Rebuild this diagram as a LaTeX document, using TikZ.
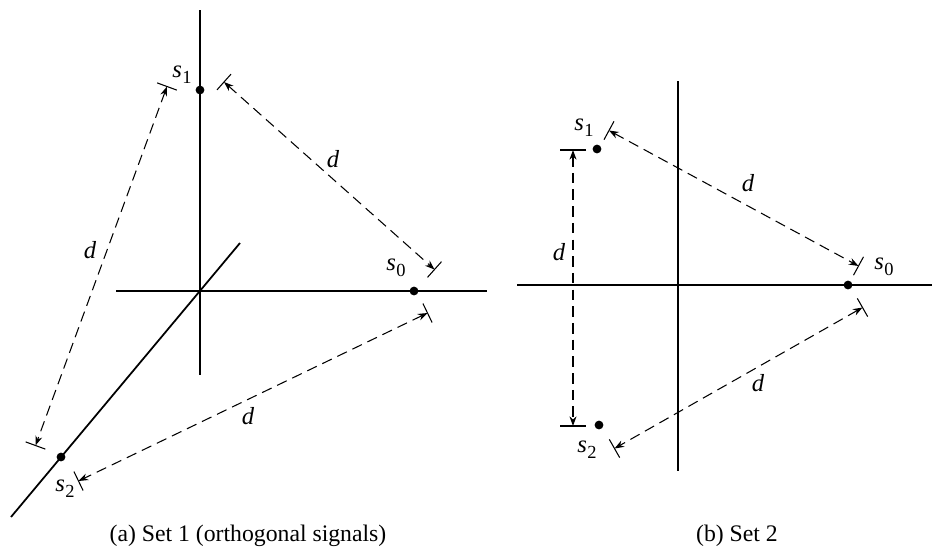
\documentclass[tikz,border=0pt]{standalone}
\usepackage{fontspec}
\setmainfont{Liberation Serif}
\usetikzlibrary{arrows.meta,calc}

\newcommand{\sig}[1]{\textit{s}\kern0.3pt\raisebox{-0.5ex}{\fontsize{10.5}{11}\selectfont #1}}

\begin{document}
\begin{tikzpicture}[x=0.02cm,y=-0.02cm,
  every node/.style={font=\fontsize{14}{15}\selectfont},
  axis/.style={line width=1pt},
  dot/.style={circle,fill=black,inner sep=0pt,minimum size=5pt},
  endbar/.style={line width=0.6pt},
  dimline/.style={line width=0.6pt,dash pattern=on 6pt off 3.5pt,
    {Stealth[length=5.5pt,width=4pt]}-{Stealth[length=5.5pt,width=4pt]}},
  lbl/.style={font=\fontsize{14}{15}\selectfont\itshape},
  figcap/.style={font=\fontsize{13.5}{15}\selectfont}]
  \useasboundingbox (0,0) rectangle (934,555);

  % (a) set 1
  \draw[axis] (116,291) -- (487,291);
  \draw[axis] (200,10) -- (200,375);
  \draw[axis] (240,243) -- (11,517);
  \node[dot] (a1) at (200,90) {};
  \node[dot] (a0) at (414,291) {};
  \node[dot] (a2) at (61,457) {};
  \node (la1) at (182,75) {\sig{1}};
  \node (la0) at (396,268) {\sig{0}};
  \node (la2) at (65,489) {\sig{2}};
  \coordinate (p10) at (224,82);
  \coordinate (p01) at (434.5,269.5);
  \coordinate (p12) at (167,86.5);
  \coordinate (p21) at (35.5,445.5);
  \coordinate (p02) at (427.5,313);
  \coordinate (p20) at (78.5,481);
  \draw[dimline] (p10) -- (p01);
  \draw[dimline] (p12) -- (p21);
  \draw[dimline] (p02) -- (p20);
  \foreach \p/\q in {p10/p01,p01/p10,p12/p21,p21/p12,p02/p20,p20/p02}
    \draw[endbar] ($(\p)!0.21cm!90:(\q)$) -- ($(\p)!0.21cm!-90:(\q)$);
  \node[lbl] (da1) at (333,159) {d};
  \node[lbl] (da2) at (90,250) {d};
  \node[lbl] (da3) at (248,416) {d};
  \node[figcap] (capa) at (248,536) {(a) Set 1 (orthogonal signals)};

  % (b) set 2
  \draw[axis] (517,285) -- (932,285);
  \draw[axis] (678,81) -- (678,471);
  \node[dot] (b1) at (597,149) {};
  \node[dot] (b0) at (848,285) {};
  \node[dot] (b2) at (599,425) {};
  \node (lb1) at (584,128) {\sig{1}};
  \node (lb0) at (884,267) {\sig{0}};
  \node (lb2) at (587,450) {\sig{2}};
  \coordinate (q10) at (609,130.5);
  \coordinate (q01) at (858.5,266);
  \coordinate (q02) at (862.5,307.5);
  \coordinate (q20) at (614.5,448.5);
  \coordinate (q12) at (573,150);
  \coordinate (q21) at (573,426);
  \draw[dimline] (q10) -- (q01);
  \draw[dimline] (q02) -- (q20);
  \draw[dimline] (q12) -- (q21);
  \foreach \p/\q in {q10/q01,q01/q10,q02/q20,q20/q02}
    \draw[endbar] ($(\p)!0.21cm!90:(\q)$) -- ($(\p)!0.21cm!-90:(\q)$);
  \foreach \p/\q in {q12/q21,q21/q12}
    \draw[endbar] ($(\p)!0.26cm!90:(\q)$) -- ($(\p)!0.26cm!-90:(\q)$);
  \node[lbl] (db1) at (748,183) {d};
  \node[lbl] (db2) at (559,252) {d};
  \node[lbl] (db3) at (758,383) {d};
  \node[figcap] (capb) at (737,536) {(b) Set 2};
\end{tikzpicture}
\end{document}
